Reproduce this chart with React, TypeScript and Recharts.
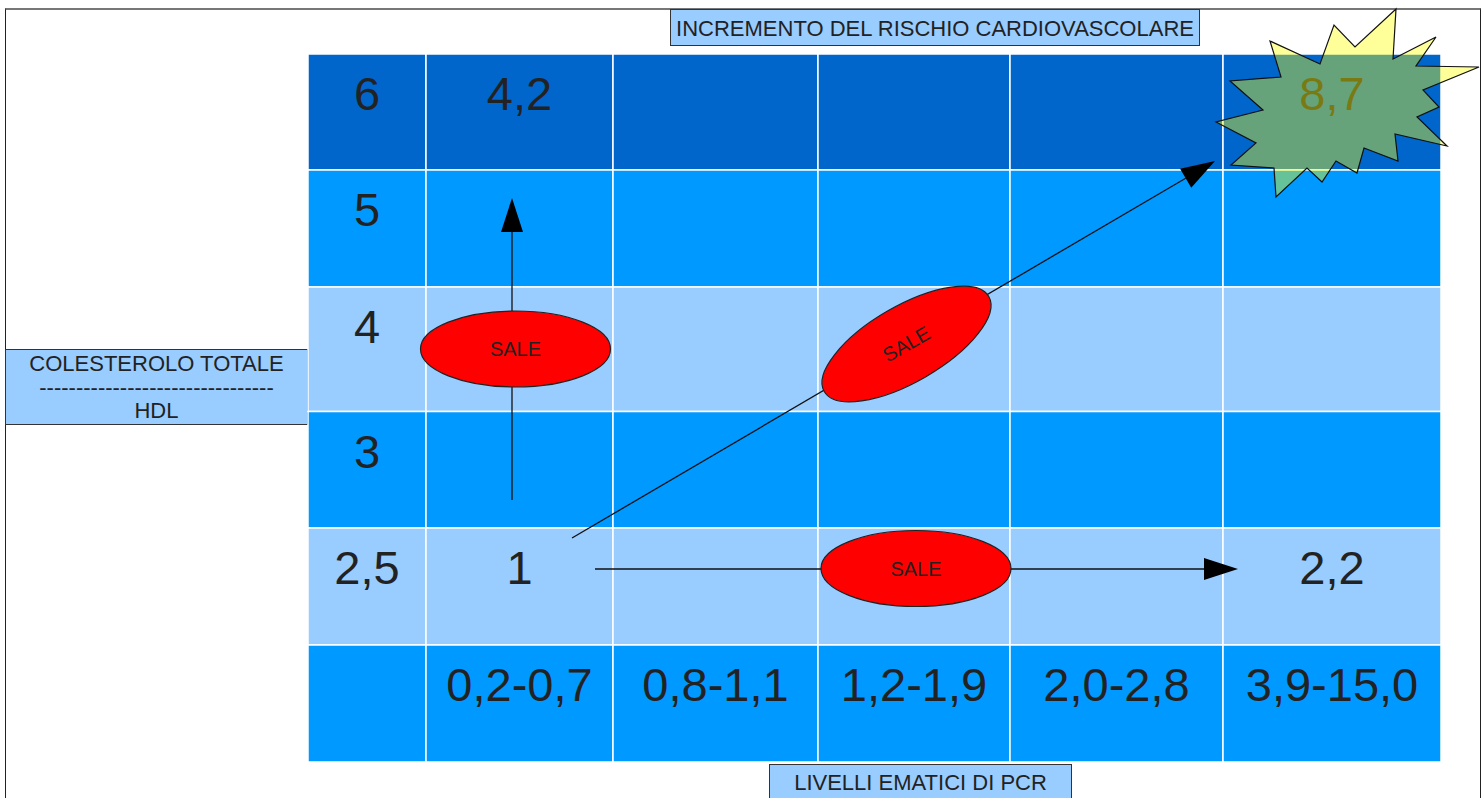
import React from 'react';
import {
  ComposedChart, XAxis, YAxis, Scatter,
  ReferenceArea, ReferenceLine, ReferenceDot,
} from 'recharts';

// ─── Data ─────────────────────────────────────────────────────────────────────

// rows: total cholesterol / HDL ratio, top to bottom
const RATIO_LABELS = ['6', '5', '4', '3', '2,5'];
// columns: PCR blood levels
const PCR_LABELS = ['0,2-0,7', '0,8-1,1', '1,2-1,9', '2,0-2,8', '3,9-15,0'];
// relative cardiovascular risk in some cells
const RISK_VALUES = [
  { ratio: '6',   pcr: '0,2-0,7',  value: '4,2' },
  { ratio: '6',   pcr: '3,9-15,0', value: '8,7' },
  { ratio: '2,5', pcr: '0,2-0,7',  value: '1' },
  { ratio: '2,5', pcr: '3,9-15,0', value: '2,2' },
];

const TITLE = 'INCREMENTO DEL RISCHIO CARDIOVASCOLARE';
const Y_TITLE = ['COLESTEROLO TOTALE', '-'.repeat(32), 'HDL'];
const X_TITLE = 'LIVELLI EMATICI DI PCR';

// ─── Layout ───────────────────────────────────────────────────────────────────

const W = 1484;
const H = 798;
const PLOT = { left: 308, top: 54, right: 1441, bottom: 762 };
// label column first; PCR row last (px)
const COL_W = [118, 187, 205, 192, 213, 218];
const ROW_H = [116, 117, 124.5, 116.5, 117, 117];
const ROW_FILL = ['#0066CC', '#0099FF', '#99CCFF', '#0099FF', '#99CCFF', '#0099FF'];

const FONT = '"Liberation Sans", Arial, sans-serif';
const INK = '#222';

const sum = (a: number[]) => a.reduce((s, v) => s + v, 0);
const TOTAL_W = sum(COL_W);
const TOTAL_H = sum(ROW_H);
const colLeft = (c: number) => sum(COL_W.slice(0, c));
const colMid = (c: number) => colLeft(c) + COL_W[c] / 2;
const rowTop = (r: number) => TOTAL_H - sum(ROW_H.slice(0, r));
const rowBottom = (r: number) => rowTop(r) - ROW_H[r];
const PCR_ROW = RATIO_LABELS.length;

const cells = ROW_H.flatMap((_, r) => COL_W.map((__, c) => ({ r, c })));

const textData = [
  ...RATIO_LABELS.map((t, r) => ({ x: colMid(0), y: rowTop(r), text: t })),
  ...PCR_LABELS.map((t, i) => ({ x: colMid(i + 1), y: rowTop(PCR_ROW), text: t })),
  ...RISK_VALUES.map((v) => ({
    x: colMid(PCR_LABELS.indexOf(v.pcr) + 1),
    y: rowTop(RATIO_LABELS.indexOf(v.ratio)),
    text: v.value,
  })),
];

// "SALE" arrows, in plot units (x right from grid left, y up from grid bottom)
const ARROWS = [
  { from: { x: 204, y: 262 }, to: { x: 204, y: 564 } },
  { from: { x: 264, y: 224 }, to: { x: 907, y: 601 } },
  { from: { x: 287, y: 193 }, to: { x: 930, y: 193 } },
];
const SALE_MARKS = [
  { x: 207.5, y: 413, angle: 0 },
  { x: 598.5, y: 418, angle: 30 },
  { x: 608, y: 193.5, angle: 0 },
];

// starburst outline, offsets from the 8,7 cell centre
const STAR = [
  [64, -103], [61, -53], [104, -75], [84, -46], [147, -45], [91, -22], [107, -5],
  [85, 5], [115, 34], [63, 22], [66, 49], [32, 36], [25, 61], [4, 49], [-10, 70],
  [-25, 56], [-56, 85], [-58, 56], [-101, 53], [-76, 31], [-116, 10], [-69, -2],
  [-102, -31], [-51, -35], [-62, -71], [-12, -48], [2, -87], [23, -65],
];

// ─── Shapes ───────────────────────────────────────────────────────────────────

const cellText = (p: any) => (
  <text x={p.cx} y={p.cy + 56} textAnchor="middle" fontSize={47}
        fontFamily={FONT} fill={INK}>{p.payload.text}</text>
);

const arrowShape = (p: any) => {
  const { x1, y1, x2, y2 } = p;
  const len = Math.hypot(x2 - x1, y2 - y1) || 1;
  const ux = (x2 - x1) / len;
  const uy = (y2 - y1) / len;
  const L = 34, hw = 11;
  const bx = x2 - ux * L;
  const by = y2 - uy * L;
  const pts = `${x2},${y2} ${bx - uy * hw},${by + ux * hw} ${bx + uy * hw},${by - ux * hw}`;
  return (
    <g>
      <line x1={x1} y1={y1} x2={bx} y2={by} stroke="#111" strokeWidth={1.3} />
      <polygon points={pts} fill="#000" />
    </g>
  );
};

const saleShape = (angle: number) => (p: any) => (
  <g transform={`rotate(${-angle} ${p.cx} ${p.cy})`}>
    <ellipse cx={p.cx} cy={p.cy} rx={95} ry={38} fill="#FF0000" stroke="#222" strokeWidth={1.2} />
    <text x={p.cx} y={p.cy + 7} textAnchor="middle" fontSize={20} fontFamily={FONT} fill={INK}>SALE</text>
  </g>
);

const starShape = (p: any) => (
  <polygon
    points={STAR.map(([dx, dy]) => `${p.cx + dx},${p.cy + dy}`).join(' ')}
    fill="#FFFF00" fillOpacity={0.4} stroke="#111" strokeWidth={1.2} strokeLinejoin="miter"
  />
);

// ─── Boxes ────────────────────────────────────────────────────────────────────

const boxStyle: React.CSSProperties = {
  position: 'absolute',
  boxSizing: 'border-box',
  background: '#99CCFF',
  border: '1.5px solid #333',
  color: INK,
  fontFamily: FONT,
  fontSize: 22,
  textAlign: 'center',
  whiteSpace: 'nowrap',
};

export default function App() {
  const starCell = { x: colMid(5), y: (rowTop(0) + rowBottom(0)) / 2 };
  return (
    <div style={{ position: 'absolute', left: 0, top: 0, width: W, height: H, overflow: 'hidden', background: '#fff' }}>
      {/* frame */}
      <div style={{
        position: 'absolute', left: 5, top: 8, width: 1475.5, height: 820, boxSizing: 'border-box',
        borderTop: '2px solid #777', borderLeft: '1.5px solid #222', borderRight: '1.5px solid #222',
      }} />
      <div style={{ ...boxStyle, left: 670, top: 9, width: 530, height: 37, lineHeight: '30px', paddingTop: 3.5 }}>
        {TITLE}
      </div>
      <div style={{ ...boxStyle, left: 5, top: 349, width: 303, height: 76, lineHeight: '23.6px', paddingTop: 2 }}>
        {Y_TITLE.map((t) => <div key={t}>{t}</div>)}
      </div>
      <div style={{ ...boxStyle, left: 769, top: 764, width: 303, height: 44, lineHeight: '30px', paddingTop: 3 }}>
        {X_TITLE}
      </div>

      <div style={{ position: 'absolute', left: 0, top: 0 }}>
        <ComposedChart width={W} height={H}
          margin={{ top: PLOT.top, left: PLOT.left, right: W - PLOT.right, bottom: H - PLOT.bottom }}>
          <XAxis type="number" dataKey="x" domain={[0, TOTAL_W]} allowDataOverflow hide />
          <YAxis type="number" dataKey="y" domain={[0, TOTAL_H]} allowDataOverflow hide />

          {cells.map(({ r, c }) => (
            <ReferenceArea key={`${r}-${c}`} x1={colLeft(c)} x2={colLeft(c) + COL_W[c]}
              y1={rowBottom(r)} y2={rowTop(r)} fill={ROW_FILL[r]} fillOpacity={1}
              stroke="#FFFFFF" strokeWidth={1.5} zIndex={100} />
          ))}

          <Scatter data={textData} dataKey="y" shape={cellText} isAnimationActive={false} zIndex={200} />

          {ARROWS.map((a, i) => (
            <ReferenceLine key={i} segment={[a.from, a.to]} shape={arrowShape} zIndex={300} />
          ))}

          {SALE_MARKS.map((s, i) => (
            <ReferenceDot key={i} x={s.x} y={s.y} r={1} shape={saleShape(s.angle)} zIndex={400} />
          ))}

          <ReferenceDot x={starCell.x} y={starCell.y} r={1} shape={starShape} zIndex={500} />
        </ComposedChart>
      </div>
    </div>
  );
}
